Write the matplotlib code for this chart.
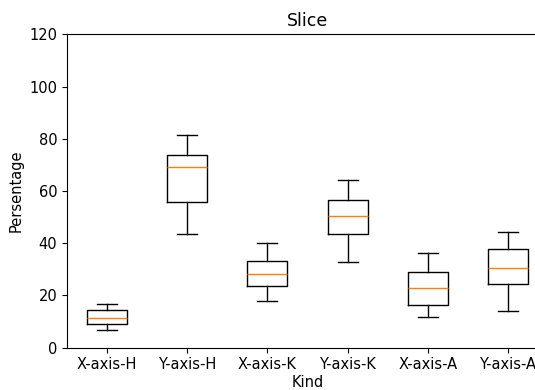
import matplotlib
matplotlib.use("Agg")
import matplotlib.pyplot as plt

plt.rcParams["savefig.bbox"] = "standard"

kinds = ["X-axis-H", "Y-axis-H", "X-axis-K", "Y-axis-K", "X-axis-A", "Y-axis-A"]
whislo = [6.8, 43.5, 17.9, 32.9, 11.8, 14.1]
q1 = [9.2, 55.7, 23.7, 43.5, 16.5, 24.3]
med = [11.5, 69.3, 28.2, 50.4, 22.7, 30.5]
q3 = [14.5, 73.9, 33.2, 56.5, 29.0, 37.8]
whishi = [16.8, 81.4, 40.2, 64.1, 36.3, 44.4]

stats = []
for i, name in enumerate(kinds):
    stats.append({"label": name, "whislo": whislo[i], "q1": q1[i], "med": med[i],
                  "q3": q3[i], "whishi": whishi[i], "fliers": []})

fig = plt.figure(figsize=(5.35, 3.9), dpi=100)
# axes run past the right edge of the figure, so its right spine is never seen
ax = fig.add_axes([67 / 535, 42.3 / 390, 481 / 535, 313.4 / 390])
ax.bxp(stats, showfliers=False)
ax.set_xlim(0.5, 6.5)
ax.set_ylim(0, 120)
ax.spines["right"].set_visible(False)
ax.set_title("Slice", fontsize=12.5)
ax.set_xlabel("Kind", fontsize=10.5, labelpad=2)
ax.set_ylabel("Persentage", fontsize=10.5)
ax.tick_params(labelsize=10.5)

fig.savefig("out.png", dpi=100)
